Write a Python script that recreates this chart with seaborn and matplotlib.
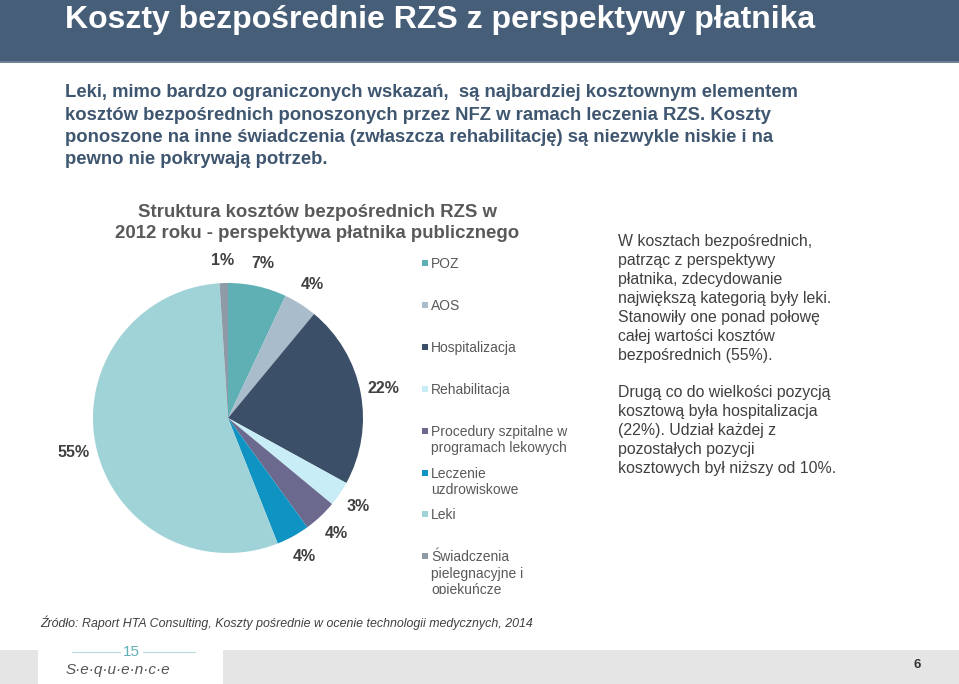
import matplotlib
matplotlib.use("Agg")
import matplotlib.pyplot as plt
from matplotlib.patches import Rectangle
import seaborn as sns

# data
categories = ["POZ", "AOS", "Hospitalizacja", "Rehabilitacja",
              "Procedury szpitalne w\nprogramach lekowych",
              "Leczenie\nuzdrowiskowe", "Leki",
              "Świadczenia\npielegnacyjne i\nopiekuńcze"]
shares = [7, 4, 22, 3, 4, 4, 55, 1]
slice_colors = ["#5EB0B4", "#A9BCCB", "#3B5068", "#C8EDF7",
                "#6B6A8E", "#0E93C3", "#A0D3D8", "#8E9AA6"]

title = "Koszty bezpośrednie RZS z perspektywy płatnika"
intro_lines = [
    "Leki, mimo bardzo ograniczonych wskazań,  są najbardziej kosztownym elementem",
    "kosztów bezpośrednich ponoszonych przez NFZ w ramach leczenia RZS. Koszty",
    "ponoszone na inne świadczenia (zwłaszcza rehabilitację) są niezwykle niskie i na",
    "pewno nie pokrywają potrzeb.",
]
chart_title = ["Struktura kosztów bezpośrednich RZS w",
               "2012 roku - perspektywa płatnika publicznego"]
side_par1 = ["W kosztach bezpośrednich,", "patrząc z perspektywy",
             "płatnika, zdecydowanie", "największą kategorią były leki.",
             "Stanowiły one ponad połowę", "całej wartości kosztów",
             "bezpośrednich (55%)."]
side_par2 = ["Drugą co do wielkości pozycją", "kosztową była hospitalizacja",
             "(22%). Udział każdej z", "pozostałych pozycji",
             "kosztowych był niższy od 10%."]
source = "Źródło: Raport HTA Consulting, Koszty pośrednie w ocenie technologii medycznych, 2014"

sns.set_theme(style="white")
plt.rcParams["font.family"] = ["Liberation Sans", "DejaVu Sans"]

W, H = 959, 684
fig = plt.figure(figsize=(W / 100, H / 100), dpi=100)
fig.patch.set_facecolor("white")


def fx(x):
    return x / W


def fy(y):
    return 1 - y / H


# header bar
fig.patches.append(Rectangle((0, fy(61)), 1, 61 / H, transform=fig.transFigure,
                             facecolor="#475E78", edgecolor="none", zorder=0))
fig.patches.append(Rectangle((0, fy(63)), 1, 2 / H, transform=fig.transFigure,
                             facecolor="#6E8298", edgecolor="none", zorder=0))
fig.text(fx(65), fy(28), title, color="white", fontsize=23,
         fontweight="bold", va="baseline")

for i, line in enumerate(intro_lines):
    fig.text(fx(65), fy(97 + i * 22.5), line, color="#3F5670", fontsize=13.3,
             fontweight="bold", va="baseline")

for i, line in enumerate(chart_title):
    fig.text(fx(317), fy(217 + i * 21), line, color="#595959", fontsize=13.4,
             fontweight="bold", va="baseline", ha="center")

# pie
cx, cy, r = 228, 418, 135
ax = fig.add_axes([fx(cx - r), fy(cy + r), 2 * r / W, 2 * r / H])
wedges, texts, autotexts = ax.pie(
    shares, colors=sns.color_palette(slice_colors), startangle=90,
    counterclock=False, autopct="%d%%", pctdistance=1.17,
    wedgeprops=dict(linewidth=0),
    textprops=dict(fontsize=11.5, fontweight="bold", color="#404040"))
ax.set_xlim(-1, 1)
ax.set_ylim(-1, 1)
ax.axis("off")

# legend (evenly spaced entries, cut off at the bottom as in the slide)
lax = fig.add_axes([fx(415), fy(594), 190 / W, 349 / H])
lax.set_xlim(415, 605)
lax.set_ylim(594, 245)
lax.axis("off")
for i, (lab, col) in enumerate(zip(categories, slice_colors)):
    y = 268 + i * 41.9
    lax.add_patch(Rectangle((422, y - 8), 6, 6, facecolor=col, edgecolor="none"))
    for j, part in enumerate(lab.split("\n")):
        lax.text(431, y + j * 16.5, part, fontsize=10, color="#595959",
                 va="baseline", clip_on=True)

for i, line in enumerate(side_par1):
    fig.text(fx(618), fy(246 + i * 19), line, color="#404040", fontsize=11.4,
             va="baseline")
for i, line in enumerate(side_par2):
    fig.text(fx(618), fy(397 + i * 19), line, color="#404040", fontsize=11.4,
             va="baseline")

fig.text(fx(40), fy(627), source, color="#404040", fontsize=8.9,
         fontstyle="italic", va="baseline")

# footer
fig.patches.append(Rectangle((0, 0), 1, 34 / H, transform=fig.transFigure,
                             facecolor="#E5E5E5", edgecolor="none", zorder=0))
fig.patches.append(Rectangle((fx(38), 0), 185 / W, 34 / H, transform=fig.transFigure,
                             facecolor="white", edgecolor="none", zorder=0))
fig.lines.append(plt.Line2D([fx(72), fx(120)], [fy(652), fy(652)],
                            transform=fig.transFigure, color="#B8D8DA", lw=0.8))
fig.lines.append(plt.Line2D([fx(143), fx(195)], [fy(652), fy(652)],
                            transform=fig.transFigure, color="#B8D8DA", lw=0.8))
fig.text(fx(131), fy(652), "15", color="#5EB0B4", fontsize=11, ha="center",
         va="center")
fig.text(fx(66), fy(670), "S·e·q·u·e·n·c·e", color="#555555", fontsize=11,
         fontstyle="italic", va="center")
fig.text(fx(917), fy(665), "6", color="#333333", fontsize=9.5, fontweight="bold",
         ha="center", va="center")

fig.savefig("out.png", dpi=100)
